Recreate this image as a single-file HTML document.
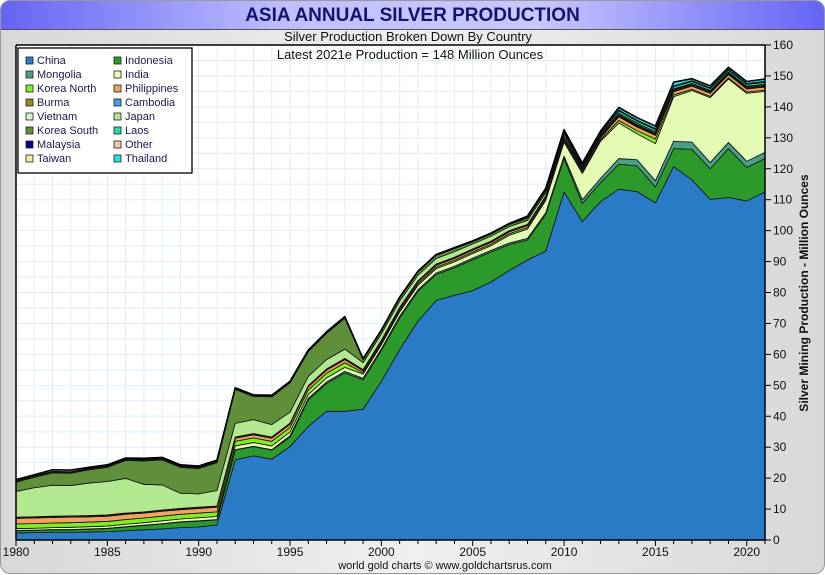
<!DOCTYPE html>
<html><head><meta charset="utf-8">
<style>
body{margin:0;width:825px;height:575px;overflow:hidden;background:#fff;font-family:"Liberation Sans",sans-serif}
#frame{position:absolute;left:0;top:0;width:823px;height:572px;border:1px solid #999;border-radius:10px;background:linear-gradient(90deg,#d8d8d8,#f0f0f0 50%,#d8d8d8);overflow:hidden}
#titlebar{position:absolute;left:0;top:0;width:823px;height:28px;background:linear-gradient(90deg,#6464f5,#c0c0ff 35%,#c8c8ff 65%,#6464f5);border-bottom:1px solid #555}
#title{position:absolute;left:0;width:823px;top:4px;text-align:center;font-weight:bold;font-size:19px;color:#141470}
</style></head><body>
<div id="frame">
<div id="titlebar"><div id="title">ASIA ANNUAL SILVER PRODUCTION</div></div>
</div>
<svg id="chart" width="825" height="575" style="position:absolute;left:0;top:0"></svg>
<script>
const years=[];for(let y=1980;y<=2021;y++)years.push(y);
const yTicks=[0,10,20,30,40,50,60,70,80,90,100,110,120,130,140,150,160];
const xTickLabels=[1980,1985,1990,1995,2000,2005,2010,2015,2020];
const names=["China","Indonesia","Mongolia","India","Korea North","Philippines","Burma","Cambodia","Vietnam","Japan","Korea South","Laos","Malaysia","Other","Taiwan","Thailand"];
const colors=["#2a7bc6","#2b9a2b","#4a9f88","#e4fbb4","#80ee22","#f4a060","#9a8a20","#4a9ae8","#c8f5c8","#b2e890","#5f8f3a","#30d8a8","#000080","#f5c8a8","#f5e8a0","#20e4ec"];
const china=[2.3,2.4,2.5,2.5,2.6,2.7,3.0,3.3,3.6,4.0,4.2,4.9,25.9,27.2,26.1,30.2,36.7,41.6,41.6,42.3,51.3,61.5,70.7,77.4,79.1,80.6,83.4,87.1,90.5,93.4,112.5,102.9,109.4,113.4,112.6,109.0,120.7,116.4,110.1,110.7,109.6,112.5];
const indonesia=[0.7,0.7,0.8,0.8,0.9,1.0,1.2,1.4,1.6,1.8,1.9,1.6,3.2,3.0,3.0,3.0,8.6,9.0,12.4,9.5,10.0,10.3,9.7,8.4,8.9,10.0,9.7,8.4,6.5,11.9,10.8,5.9,6.1,8.1,8.3,5.1,5.8,9.9,9.9,15.8,10.8,10.8];
const mongolia=[0.1,0.1,0.1,0.1,0.1,0.1,0.1,0.1,0.1,0.1,0.1,0.1,0.1,0.1,0.1,0.5,0.5,0.5,0.5,0.5,0.5,0.5,0.5,0.5,0.5,0.5,0.5,0.5,0.5,0.5,0.8,1.2,1.4,1.8,2.0,2.0,2.4,2.3,2.0,2.0,2.0,2.0];
const india=[0.6,0.6,0.6,0.7,0.7,0.7,0.8,0.8,0.9,0.9,1.0,1.0,1.2,1.2,1.2,1.2,1.2,1.3,1.3,1.3,1.3,1.4,1.4,1.4,1.4,1.5,1.5,2.5,3.0,4.0,4.5,8.5,12.0,11.5,8.4,12.0,14.4,16.7,21.0,20.5,22.0,19.7];
const koreaNorth=[1.5,1.5,1.5,1.5,1.5,1.5,1.5,1.5,1.5,1.5,1.5,1.5,1.5,1.5,1.5,1.5,1.5,1.5,1.5,0.5,0.5,0.5,0.5,0.5,0.5,0.5,0.5,0.5,0.5,0.5,0.5,0.5,0.5,0.8,1.0,1.5,0.6,0.4,0.4,0.4,0.4,0.4];
const philippines=[1.8,1.8,1.8,1.8,1.7,1.7,1.7,1.6,1.6,1.5,1.5,1.5,1.0,1.0,1.0,1.0,1.0,1.0,1.0,0.6,0.6,0.6,0.6,0.6,0.6,0.6,0.6,0.6,0.6,0.6,0.6,0.6,0.6,1.2,1.2,1.2,1.0,1.0,1.0,1.0,1.0,1.0];
const burma=[0.3,0.3,0.3,0.3,0.3,0.3,0.3,0.3,0.3,0.3,0.3,0.3,0.3,0.3,0.3,0.3,0.3,0.3,0.3,0.3,0.3,0.3,0.3,0.3,0.3,0.3,0.3,0.3,0.3,0.3,0.3,0.3,0.3,0.3,0.3,0.3,0.2,0.2,0.2,0.2,0.2,0.2];
const cambodia=[0,0,0,0,0,0,0,0,0,0,0,0,0,0,0,0,0,0,0,0,0,0,0,0,0,0,0,0,0,0,0,0,0,0,0,0,0,0,0,0,0,0];
const vietnam=[0.1,0.1,0.1,0.1,0.1,0.1,0.1,0.1,0.1,0.1,0.1,0.1,0.1,0.1,0.1,0.1,0.1,0.1,0.1,0.1,0.1,0.1,0.1,0.1,0.1,0.1,0.1,0.1,0.1,0.1,0.1,0.1,0.1,0.1,0.1,0.1,0.1,0.1,0.1,0.1,0.1,0.1];
const japan=[8.3,9.4,10.0,9.8,10.5,10.8,11.2,8.9,8.1,4.9,4.3,5.0,4.4,4.5,4.0,3.5,3.0,3.0,3.0,2.2,2.0,2.0,1.8,1.8,1.8,1.6,1.6,1.3,1.3,1.0,0.8,0.3,0.3,0.3,0.3,0.3,0.3,0.3,0.3,0.3,0.3,0.3];
const koreaSouth=[3.0,3.4,4.0,4.0,4.3,4.6,5.8,7.6,8.1,8.4,8.2,9.0,11.0,7.5,9.0,9.5,8.0,8.5,10.0,1.0,1.0,1.0,1.0,1.0,1.0,0.7,0.7,0.7,0.7,0.7,0.7,0.5,0.5,0.5,0.5,0.5,0.3,0.3,0.3,0.3,0.3,0.3];
const laos=[0,0,0,0,0,0,0,0,0,0,0,0,0,0,0,0,0,0,0,0,0,0,0,0,0,0,0,0,0.4,0.4,0.4,0.4,0.4,0.7,0.7,0.7,0.7,0.6,0.6,0.6,0.6,0.6];
const malaysia=[0.3,0.3,0.3,0.3,0.3,0.3,0.3,0.3,0.3,0.3,0.3,0.3,0.2,0.2,0.2,0.2,0.2,0.2,0.2,0.1,0.1,0.1,0.1,0.1,0.1,0.1,0.1,0.1,0.1,0.1,0.1,0.1,0.1,0.1,0.1,0.1,0.1,0.1,0.1,0.1,0.1,0.1];
const other=[0.2,0.2,0.2,0.2,0.2,0.2,0.2,0.2,0.2,0.2,0.2,0.2,0.2,0.2,0.2,0.2,0.2,0.2,0.2,0.1,0.1,0.1,0.1,0.1,0.1,0.1,0.1,0.1,0.1,0.1,0.1,0.1,0.1,0.1,0.1,0.1,0.1,0.1,0.1,0.1,0.1,0.1];
const taiwan=[0.3,0.3,0.5,0.5,0.3,0.3,0.3,0.3,0.3,0.3,0.3,0.3,0.1,0.1,0.1,0.1,0.1,0.1,0.1,0.1,0.1,0.1,0.1,0.1,0.1,0.1,0.1,0.1,0.1,0.1,0.1,0.1,0.1,0.1,0.1,0.1,0.1,0.1,0.1,0.1,0.1,0.1];
const thailand=[0,0,0,0,0,0,0,0,0,0,0,0,0,0,0,0,0,0,0,0,0,0,0,0,0,0,0,0,0,0,0.3,0.3,0.3,0.8,0.8,0.8,1.2,0.6,0.6,0.6,0.6,0.8];
const series=[china,indonesia,mongolia,india,koreaNorth,philippines,burma,cambodia,vietnam,japan,koreaSouth,laos,malaysia,other,taiwan,thailand];

const L=16,R=765,T=45,B=540;
const xS=y=>L+(y-1980)*(R-L)/41;
const yS=v=>B-v*(B-T)/160;
const svg=document.getElementById('chart');
const NS="http://www.w3.org/2000/svg";
function mk(tag,attrs,parent){const e=document.createElementNS(NS,tag);for(const k in attrs)e.setAttribute(k,attrs[k]);(parent||svg).appendChild(e);return e;}

const bg=mk('rect',{x:L,y:T,width:R-L,height:B-T,fill:'#fff'});


const grid=mk('g',{stroke:'#ddeef9','stroke-width':1});


years.forEach(y=>mk('line',{x1:xS(y),x2:xS(y),y1:T,y2:B},grid));
for(let v=5;v<160;v+=5)mk('line',{x1:L,x2:R,y1:yS(v),y2:yS(v)},grid);

let base=years.map(()=>0);
series.forEach((s,i)=>{
  const top=base.map((b,j)=>b+s[j]);
  let d='M'+years.map((y,j)=>xS(y)+','+yS(top[j])).join('L');
  for(let j=years.length-1;j>=0;j--)d+='L'+xS(years[j])+','+yS(base[j]);
  d+='Z';
  const p=mk('path',{d:d,fill:colors[i],stroke:'#111','stroke-width':0.8,'stroke-linejoin':'round'});
  
  
  base=top;
});
const topLine=mk('polyline',{points:years.map((y,j)=>xS(y)+','+yS(base[j])).join(' '),fill:'none',stroke:'#000','stroke-width':1.6,'stroke-linejoin':'round'});



mk('line',{x1:L,x2:R,y1:T,y2:T,stroke:'#000','stroke-width':1.5});
mk('line',{x1:R,x2:R,y1:T,y2:B,stroke:'#000','stroke-width':1.5});
mk('line',{x1:L,x2:L,y1:T,y2:B,stroke:'#000','stroke-width':1.5});
mk('line',{x1:L,x2:R,y1:B,y2:B,stroke:'#000','stroke-width':1.5});
yTicks.forEach(v=>{
  mk('line',{x1:R,x2:R+6,y1:yS(v),y2:yS(v),stroke:'#000'});
  const t=mk('text',{x:R+8,y:yS(v)+4,'font-size':12,fill:'#111'});t.textContent=v;
  
  
});
years.forEach(y=>mk('line',{x1:xS(y),x2:xS(y),y1:B,y2:B+(y%5==0?6:4),stroke:'#000'}));
xTickLabels.forEach(y=>{
  const t=mk('text',{x:xS(y),y:B+16,'font-size':12,'text-anchor':'middle',fill:'#111'});t.textContent=y;
  
  
});
const yt=mk('text',{x:808,y:293,'font-size':12,'font-weight':'bold','text-anchor':'middle',transform:'rotate(-90 808 293)',fill:'#111'});
yt.textContent='Silver Mining Production - Million Ounces';


const st1=mk('text',{x:408,y:41,'font-size':13,'text-anchor':'middle',fill:'#111'});st1.textContent='Silver Production Broken Down By Country';


const st2=mk('text',{x:410,y:59,'font-size':13,'text-anchor':'middle',fill:'#111'});st2.textContent='Latest 2021e Production = 148 Million Ounces';


const ft=mk('text',{x:445,y:569,'font-size':11,'text-anchor':'middle',fill:'#111'});ft.textContent='world gold charts © www.goldchartsrus.com';



const lg=mk('g',{});


mk('rect',{x:18,y:48,width:174,height:125,fill:'#fff',stroke:'#000','stroke-width':1.3},lg);
names.forEach((n,i)=>{
  const col=i%2,row=Math.floor(i/2);
  const x=col?114:26,y=57+row*14;
  const e=mk('g',{},lg);
  
  
  mk('rect',{x:x,y:y,width:7,height:7,fill:colors[i],stroke:'#222','stroke-width':0.8},e);
  const t=mk('text',{x:x+11,y:y+7,'font-size':11,fill:'#1a1a4a'},e);t.textContent=n;
});
</script>
</body></html>
